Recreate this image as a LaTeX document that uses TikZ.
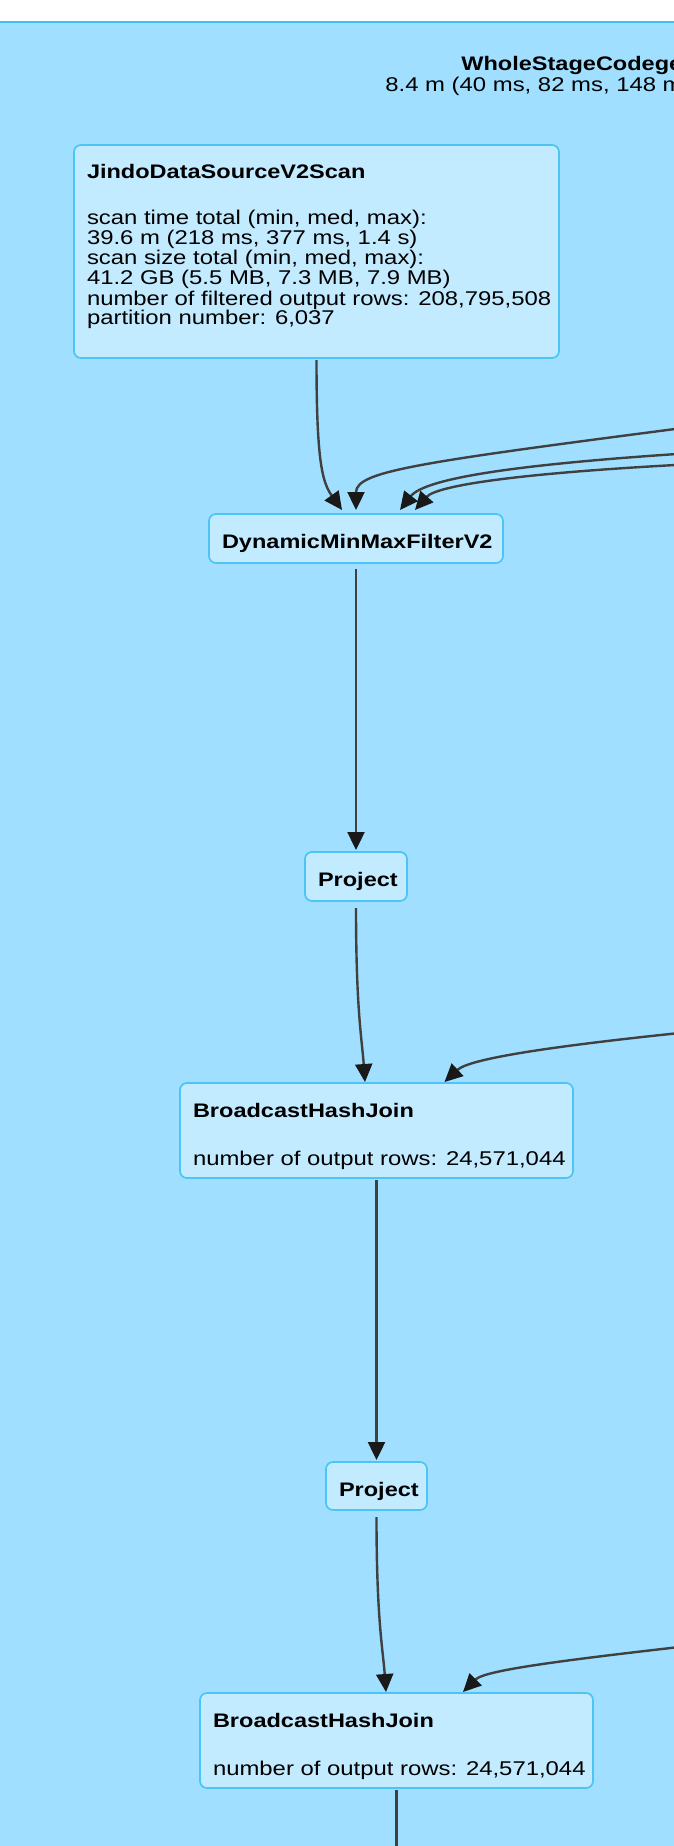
\documentclass[tikz,border=0pt]{standalone}
\usepackage{fontspec}
\setmainfont{Liberation Sans}[FakeStretch=1.2]
\usetikzlibrary{arrows.meta,calc}
\definecolor{clusterfill}{HTML}{A0DFFF}
\definecolor{clusterline}{HTML}{3EC0F5}
\definecolor{nodefill}{HTML}{C3EBFF}
\definecolor{nodeline}{HTML}{4CC4F5}
\definecolor{edgecol}{HTML}{404040}
\newcommand{\boxtext}[2]{\hbox to #1{\vtop{\baselineskip=10pt\lineskiplimit=-\maxdimen #2}\hss}}
\newcommand{\ttl}[1]{\hbox{\fontsize{9.8}{10}\selectfont\bfseries #1}}
\tikzset{
  opbox/.style={draw=nodeline, fill=nodefill, line width=0.85pt, rounded corners=3.5pt,
    anchor=north west, inner xsep=6.5pt, inner ysep=0pt, outer sep=0pt, text height=17pt,
    font=\fontsize{9.95}{10}\selectfont},
  conn/.style={draw=edgecol, line width=1.2pt,
    -{Triangle[length=9pt,width=8.5pt,color=black!90]}},
  plainconn/.style={draw=edgecol, line width=1.2pt},
  cluster/.style={draw=clusterline, fill=clusterfill, line width=0.9pt, rounded corners=4pt},
  ctext/.style={anchor=base west, inner sep=0pt, font=\fontsize{9.95}{10}\selectfont}
}
\begin{document}
\begin{tikzpicture}[x=0.5pt,y=-0.5pt]
\useasboundingbox (0,0) rectangle (674,1846);
\clip (0,0) rectangle (674,1846);
\fill[white] (0,0) rectangle (674,1846);
\draw[cluster] (-30,22) rectangle (720,1900);
\node[ctext, font=\fontsize{9.8}{10}\selectfont\bfseries] (ctitle) at (461,71) {WholeStageCodegen};
\node[ctext] (cstats) at (385,92) {8.4 m (40 ms, 82 ms, 148 ms)};

% nodes
\node[opbox, text depth=89.5pt] (jindo) at (74,145) {\boxtext{229.5pt}{%
  \ttl{JindoDataSourceV2Scan}\vskip13pt
  \hbox{scan time total (min, med, max):}
  \hbox{39.6 m (218 ms, 377 ms, 1.4 s)}
  \hbox{scan size total (min, med, max):}
  \hbox{41.2 GB (5.5 MB, 7.3 MB, 7.9 MB)}
  \hbox{number of filtered output rows: 208,795,508}
  \hbox{partition number: 6,037}}};
\node[opbox, text depth=7.5pt] (dyn) at (209,514) {\boxtext{134pt}{\ttl{DynamicMinMaxFilterV2}}};
\node[opbox, text depth=7.5pt] (proj1) at (305,852) {\boxtext{38pt}{\ttl{Project}}};
\node[opbox, text depth=30.5pt] (bhj1) at (180,1083) {\boxtext{183.5pt}{%
  \ttl{BroadcastHashJoin}\vskip14pt
  \hbox{number of output rows: 24,571,044}}};
\node[opbox, text depth=7pt] (proj2) at (326,1462) {\boxtext{37.5pt}{\ttl{Project}}};
\node[opbox, text depth=30.5pt] (bhj2) at (200,1693) {\boxtext{183.5pt}{%
  \ttl{BroadcastHashJoin}\vskip14pt
  \hbox{number of output rows: 24,571,044}}};

% free ends outside the visible area
\coordinate (in1) at (760,418);
\coordinate (in2) at (760,449);
\coordinate (in3) at (760,461);
\coordinate (in4) at (760,1025);
\coordinate (in5) at (760,1638);
\coordinate (out1) at (396.5,1900);

% connectors
\draw[conn] ([yshift=-1pt]jindo.south) .. controls (316.5,460) and (322,482) .. ([xshift=-7pt,yshift=2pt]dyn.north);
\draw[conn] (in1) .. controls (420,462) and (356,470) .. ([yshift=2pt]dyn.north);
\draw[conn] (in2) .. controls (520,462) and (425,478) .. ([xshift=22pt,yshift=2pt]dyn.north);
\draw[conn] (in3) .. controls (540,470) and (438,484) .. ([xshift=29.5pt,yshift=2pt]dyn.north);
\draw[conn] ([yshift=-3pt]dyn.south) -- ([yshift=1pt]proj1.north);
\draw[conn] ([yshift=-3.5pt]proj1.south) .. controls (356,1010) and (362,1040) .. ([xshift=-5.75pt,yshift=0.5pt]bhj1.north);
\draw[conn] (in4) .. controls (560,1044) and (470,1058) .. ([xshift=34pt,yshift=0.5pt]bhj1.north);
\draw[conn] ([yshift=-1pt]bhj1.south) -- ([yshift=1pt]proj2.north);
\draw[conn] ([yshift=-3.5pt]proj2.south) .. controls (376.5,1620) and (383,1650) .. ([xshift=-5.25pt,yshift=0.5pt]bhj2.north);
\draw[conn] (in5) .. controls (560,1660) and (485,1670) .. ([xshift=33.25pt,yshift=0.5pt]bhj2.north);
\draw[plainconn] ([yshift=-1pt]bhj2.south) -- (out1);
\end{tikzpicture}
\end{document}
